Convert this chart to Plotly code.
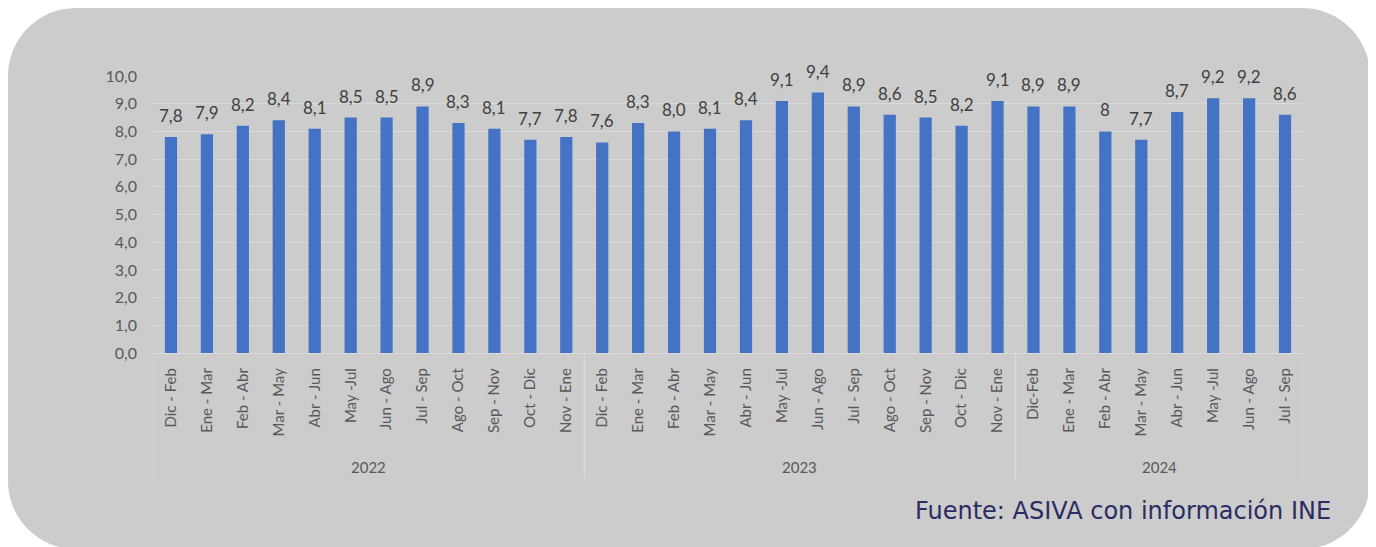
import plotly.graph_objects as go

# data
periods = ["Dic - Feb", "Ene - Mar", "Feb - Abr", "Mar - May", "Abr - Jun", "May -Jul",
           "Jun - Ago", "Jul - Sep", "Ago - Oct", "Sep - Nov", "Oct - Dic", "Nov - Ene",
           "Dic - Feb", "Ene - Mar", "Feb - Abr", "Mar - May", "Abr - Jun", "May -Jul",
           "Jun - Ago", "Jul - Sep", "Ago - Oct", "Sep - Nov", "Oct - Dic", "Nov - Ene",
           "Dic-Feb", "Ene - Mar", "Feb - Abr", "Mar - May", "Abr - Jun", "May -Jul",
           "Jun - Ago", "Jul - Sep"]
years = ["2022"] * 12 + ["2023"] * 12 + ["2024"] * 8
values = [7.8, 7.9, 8.2, 8.4, 8.1, 8.5, 8.5, 8.9, 8.3, 8.1, 7.7, 7.8,
          7.6, 8.3, 8.0, 8.1, 8.4, 9.1, 9.4, 8.9, 8.6, 8.5, 8.2, 9.1,
          8.9, 8.9, 8.0, 7.7, 8.7, 9.2, 9.2, 8.6]
value_labels = ["7,8", "7,9", "8,2", "8,4", "8,1", "8,5", "8,5", "8,9", "8,3", "8,1", "7,7", "7,8",
                "7,6", "8,3", "8,0", "8,1", "8,4", "9,1", "9,4", "8,9", "8,6", "8,5", "8,2", "9,1",
                "8,9", "8,9", "8", "7,7", "8,7", "9,2", "9,2", "8,6"]
y_ticks = [0, 1, 2, 3, 4, 5, 6, 7, 8, 9, 10]
y_tick_text = ["0,0", "1,0", "2,0", "3,0", "4,0", "5,0", "6,0", "7,0", "8,0", "9,0", "10,0"]
source_text = "Fuente: ASIVA con información INE"

# page body has an 8px margin, so the figure is drawn 8px in from the window edge
OFF = 8
W, H = 1368, 539
L, R, T, B = 145, 73, 68, 194
PW, PH = W - L - R, H - T - B

GRAY_TXT = "#595959"
FONT = "Lato"


def px(x):
    # screen x -> paper
    return (x - OFF - L) / PW


def py(y):
    # screen y -> paper
    return (H - B - (y - OFF)) / PH


def rounded_rect(x0, y0, x1, y1, r):
    k = 0.5523 * r
    pts = [
        ("M", [(x0 + r, y0)]),
        ("L", [(x1 - r, y0)]),
        ("C", [(x1 - r + k, y0), (x1, y0 + r - k), (x1, y0 + r)]),
        ("L", [(x1, y1 - r)]),
        ("C", [(x1, y1 - r + k), (x1 - r + k, y1), (x1 - r, y1)]),
        ("L", [(x0 + r, y1)]),
        ("C", [(x0 + r - k, y1), (x0, y1 - r + k), (x0, y1 - r)]),
        ("L", [(x0, y0 + r)]),
        ("C", [(x0, y0 + r - k), (x0 + r - k, y0), (x0 + r, y0)]),
    ]
    out = []
    for cmd, ps in pts:
        out.append(cmd + " " + " ".join(f"{px(a):.5f},{py(b):.5f}" for a, b in ps))
    return " ".join(out) + " Z"


x_idx = list(range(len(values)))

fig = go.Figure()
fig.add_trace(go.Bar(
    x=x_idx,
    y=values,
    marker=dict(color="#4472C4", line=dict(width=0)),
    cliponaxis=False,
    hoverinfo="x+y",
))

shapes = [dict(type="path", xref="paper", yref="paper",
               path=rounded_rect(8, 8, 1370, 549, 68),
               fillcolor="#cccccc", line=dict(width=0), layer="below")]

annotations = []
# value labels above the bars
for xi, v, lab in zip(x_idx, values, value_labels):
    annotations.append(dict(x=xi, y=v, xref="x", yref="y", text=lab,
                            showarrow=False, xanchor="center", yanchor="bottom",
                            yshift=9,
                            font=dict(family=FONT, size=17, color="#404040")))

# group boundaries + year labels
groups = []
for i, yr in enumerate(years):
    if not groups or groups[-1][0] != yr:
        groups.append([yr, i, i])
    else:
        groups[-1][2] = i

bounds = [groups[0][1] - 0.5] + [g[2] + 0.5 for g in groups]
for b in bounds:
    shapes.append(dict(type="line", xref="x", yref="paper", x0=b, x1=b,
                       y0=0, y1=py(479), line=dict(color="#dcdcdc", width=1.3)))
for yr, a, b in groups:
    annotations.append(dict(x=(a + b) / 2, y=py(467), xref="x", yref="paper",
                            text=yr, showarrow=False, yanchor="middle",
                            font=dict(family=FONT, size=15, color=GRAY_TXT)))

annotations.append(dict(x=px(1333), y=py(511), xref="paper", yref="paper",
                        xanchor="right", yanchor="middle", text=source_text,
                        showarrow=False,
                        font=dict(family="DejaVu Sans", size=24, color="#2b2c63")))

fig.update_layout(
    width=W, height=H,
    margin=dict(l=L, r=R, t=T, b=B, autoexpand=False),
    paper_bgcolor="white",
    plot_bgcolor="rgba(0,0,0,0)",
    showlegend=False,
    bargap=0.66,
    shapes=shapes,
    annotations=annotations,
    font=dict(family=FONT, color=GRAY_TXT),
    xaxis=dict(
        range=[-0.5, len(values) - 0.5],
        tickmode="array", tickvals=x_idx, ticktext=periods,
        tickangle=-90, tickfont=dict(family=FONT, size=15, color=GRAY_TXT),
        showgrid=False, zeroline=False,
        showline=True, linecolor="#dcdcdc", linewidth=1.3,
        ticks="", ticklabelstandoff=8,
    ),
    yaxis=dict(
        range=[0, 10],
        tickmode="array", tickvals=y_ticks, ticktext=y_tick_text,
        tickfont=dict(family=FONT, size=16, color=GRAY_TXT),
        showgrid=True, gridcolor="#dadada", gridwidth=1.3,
        zeroline=False, showline=False, ticks="", ticklabelstandoff=15,
    ),
)

fig.write_html("out.html")
